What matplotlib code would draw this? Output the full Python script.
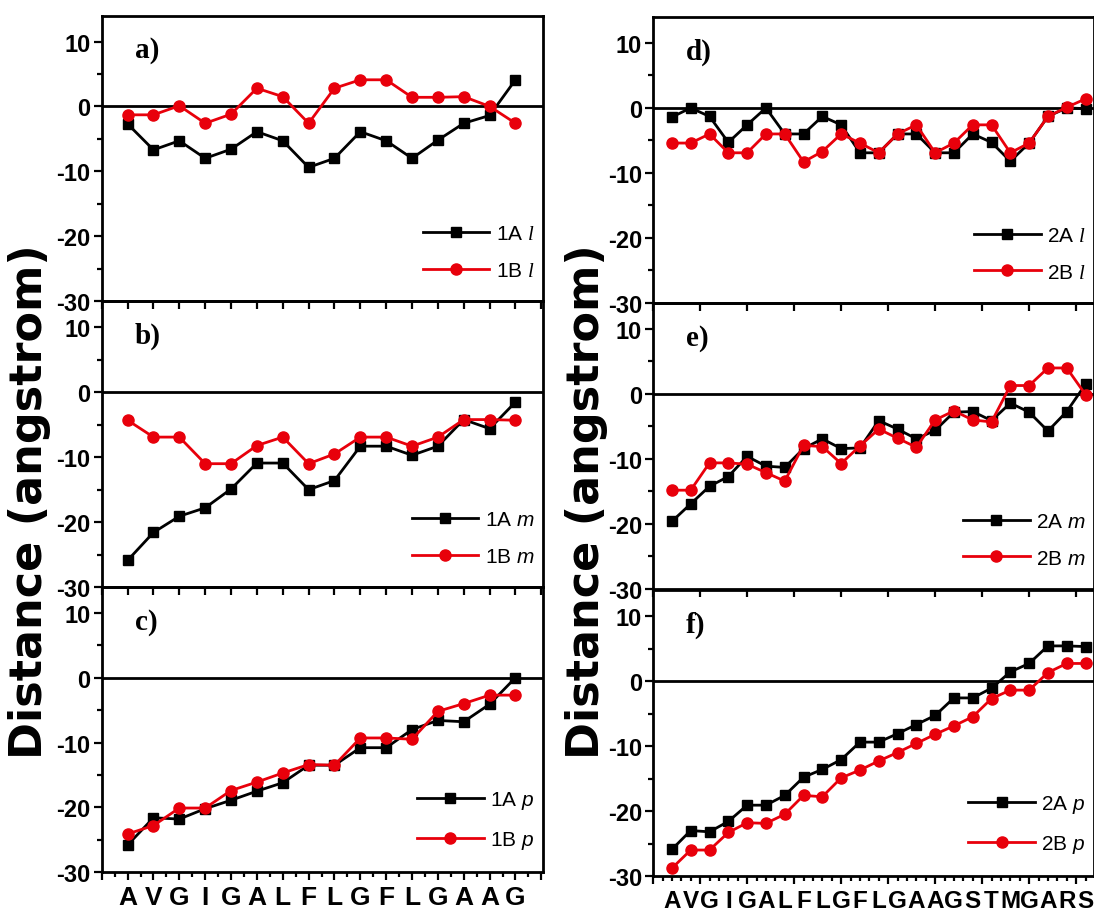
import numpy as np
import matplotlib
matplotlib.use("Agg")
import matplotlib.pyplot as plt
from matplotlib.ticker import MultipleLocator

plt.rcParams['font.family'] = 'Liberation Sans'
plt.rcParams['axes.unicode_minus'] = False
plt.rcParams['mathtext.fontset'] = 'custom'
plt.rcParams['mathtext.it'] = 'Liberation Sans:italic'
plt.rcParams['mathtext.rm'] = 'Liberation Serif:italic'

# residue sequences
seq1 = list("AVGIGALFLGFLGAAG")
seq2 = list("AVGIGALFLGFLGAAGSTMGARS")

# distances (angstrom), peptide 1
l_1A = [-2.7, -6.7, -5.3, -8.0, -6.6, -3.9, -5.3, -9.4, -8.0, -3.9, -5.3, -8.0, -5.2, -2.6, -1.4, 4.1]
l_1B = [-1.3, -1.3, 0.1, -2.6, -1.2, 2.8, 1.5, -2.6, 2.8, 4.1, 4.1, 1.4, 1.4, 1.5, 0.0, -2.6]
m_1A = [-25.9, -21.6, -19.1, -17.8, -14.9, -10.9, -10.9, -15.0, -13.6, -8.3, -8.3, -9.7, -8.3, -4.2, -5.6, -1.5]
m_1B = [-4.3, -6.9, -6.9, -11.0, -11.0, -8.2, -6.9, -11.0, -9.5, -6.9, -6.9, -8.3, -6.9, -4.2, -4.2, -4.3]
p_1A = [-25.8, -21.6, -21.8, -20.2, -18.9, -17.5, -16.2, -13.5, -13.5, -10.8, -10.8, -8.0, -6.6, -6.8, -4.1, 0.0]
p_1B = [-24.1, -22.8, -20.1, -20.1, -17.4, -16.1, -14.7, -13.4, -13.5, -9.3, -9.3, -9.5, -5.2, -4.0, -2.7, -2.7]

# distances (angstrom), peptide 2
l_2A = [-1.4, 0.0, -1.3, -5.3, -2.6, 0.0, -4.0, -4.0, -1.3, -2.6, -6.9, -6.9, -4.0, -4.0, -6.9, -6.9,
        -4.0, -5.3, -8.2, -5.4, -1.3, 0.0, -0.1]
l_2B = [-5.4, -5.4, -4.0, -6.9, -6.9, -4.0, -4.0, -8.3, -6.7, -4.0, -5.4, -6.9, -4.0, -2.6, -6.9, -5.4,
        -2.6, -2.6, -6.9, -5.4, -1.3, 0.1, 1.4]
m_2A = [-19.6, -16.9, -14.2, -12.7, -9.6, -11.1, -11.3, -8.4, -6.9, -8.4, -8.3, -4.1, -5.4, -6.9, -5.6,
        -2.8, -2.7, -4.1, -1.4, -2.8, -5.7, -2.7, 1.5]
m_2B = [-14.8, -14.8, -10.6, -10.6, -10.8, -12.1, -13.4, -7.9, -8.1, -10.7, -8.0, -5.4, -6.8, -8.2, -4.0,
        -2.6, -4.0, -4.3, 1.3, 1.3, 4.0, 4.0, -0.1]
p_2A = [-25.9, -23.0, -23.2, -21.6, -19.1, -19.1, -17.6, -14.8, -13.6, -12.1, -9.4, -9.4, -8.1, -6.7, -5.3,
        -2.6, -2.6, -1.1, 1.4, 2.7, 5.4, 5.4, 5.3]
p_2B = [-28.8, -26.0, -26.0, -23.3, -21.8, -21.9, -20.5, -17.6, -17.8, -14.9, -13.7, -12.3, -11.0, -9.6, -8.2,
        -6.9, -5.5, -2.7, -1.4, -1.4, 1.3, 2.7, 2.7]

red = '#e8000b'

fig = plt.figure(figsize=(10.94, 9.2), dpi=100)

left_bottoms = [0.6717, 0.3609, 0.0508]
right_bottoms = [0.6696, 0.3587, 0.0467]

panels = [
    ([0.093, left_bottoms[0], 0.403, 0.3103], seq1, l_1A, l_1B, "1A", "1B", r"$\mathrm{l}$", "a)", False),
    ([0.093, left_bottoms[1], 0.403, 0.3103], seq1, m_1A, m_1B, "1A", "1B", r"$m$", "b)", False),
    ([0.093, left_bottoms[2], 0.403, 0.3103], seq1, p_1A, p_1B, "1A", "1B", r"$p$", "c)", True),
    ([0.597, right_bottoms[0], 0.403, 0.3109], seq2, l_2A, l_2B, "2A", "2B", r"$\mathrm{l}$", "d)", False),
    ([0.597, right_bottoms[1], 0.403, 0.3109], seq2, m_2A, m_2B, "2A", "2B", r"$m$", "e)", False),
    ([0.597, right_bottoms[2], 0.403, 0.3109], seq2, p_2A, p_2B, "2A", "2B", r"$p$", "f)", True),
]

for rect, seq, ya, yb, na, nb, sym, tag, bottom in panels:
    ax = fig.add_axes(rect)
    x = np.arange(1, len(seq) + 1)
    ax.axhline(0, color='k', lw=2.0, zorder=1)
    ax.plot(x, ya, '-s', color='k', lw=2.0, ms=7, label=f"{na} {sym}", zorder=3)
    ax.plot(x, yb, '-o', color=red, lw=2.0, ms=8, label=f"{nb} {sym}", zorder=4)

    ax.set_ylim(-30, 14)
    ax.yaxis.set_major_locator(MultipleLocator(10))
    ax.yaxis.set_minor_locator(MultipleLocator(5))

    if len(seq) == 16:
        ax.set_xlim(0, 17.05)
        ax.xaxis.set_major_locator(MultipleLocator(1))
        letter_size = 19
    else:
        ax.set_xlim(0, 23.45)
        ax.xaxis.set_major_locator(MultipleLocator(2.5))
        letter_size = 17.5
    if bottom:
        ax.xaxis.set_minor_locator(MultipleLocator(0.5))
        for xi, s in zip(x, seq):
            ax.text(xi, -0.045, s, transform=ax.get_xaxis_transform(), ha='center', va='top',
                    fontsize=letter_size, fontweight='bold')
    ax.set_xticklabels([])

    for sp in ax.spines.values():
        sp.set_linewidth(2.0)
    ax.tick_params(axis='both', which='major', direction='out', length=6, width=1.6,
                   labelsize=17, top=False, right=False)
    ax.tick_params(axis='both', which='minor', direction='out', length=3.5, width=1.6,
                   top=False, right=False)
    ax.tick_params(axis='y', pad=2)
    for lab in ax.get_yticklabels():
        lab.set_fontweight('bold')

    ax.text(0.075, 0.88, tag, transform=ax.transAxes, fontsize=21, fontweight='bold',
            family='Liberation Serif', va='center')

    ax.legend(loc='lower right', bbox_to_anchor=(1.0, 0.045), frameon=False, fontsize=15,
              handlelength=3.2, labelspacing=0.85, handletextpad=0.3, borderaxespad=0.0)
    ax.patch.set_alpha(0)

fig.text(0.027, 0.455, "Distance (angstrom)", rotation=90, ha='center', va='center',
         fontsize=32, fontweight='bold', family='DejaVu Sans')
fig.text(0.536, 0.455, "Distance (angstrom)", rotation=90, ha='center', va='center',
         fontsize=32, fontweight='bold', family='DejaVu Sans')

fig.savefig("out.png", dpi=100)
